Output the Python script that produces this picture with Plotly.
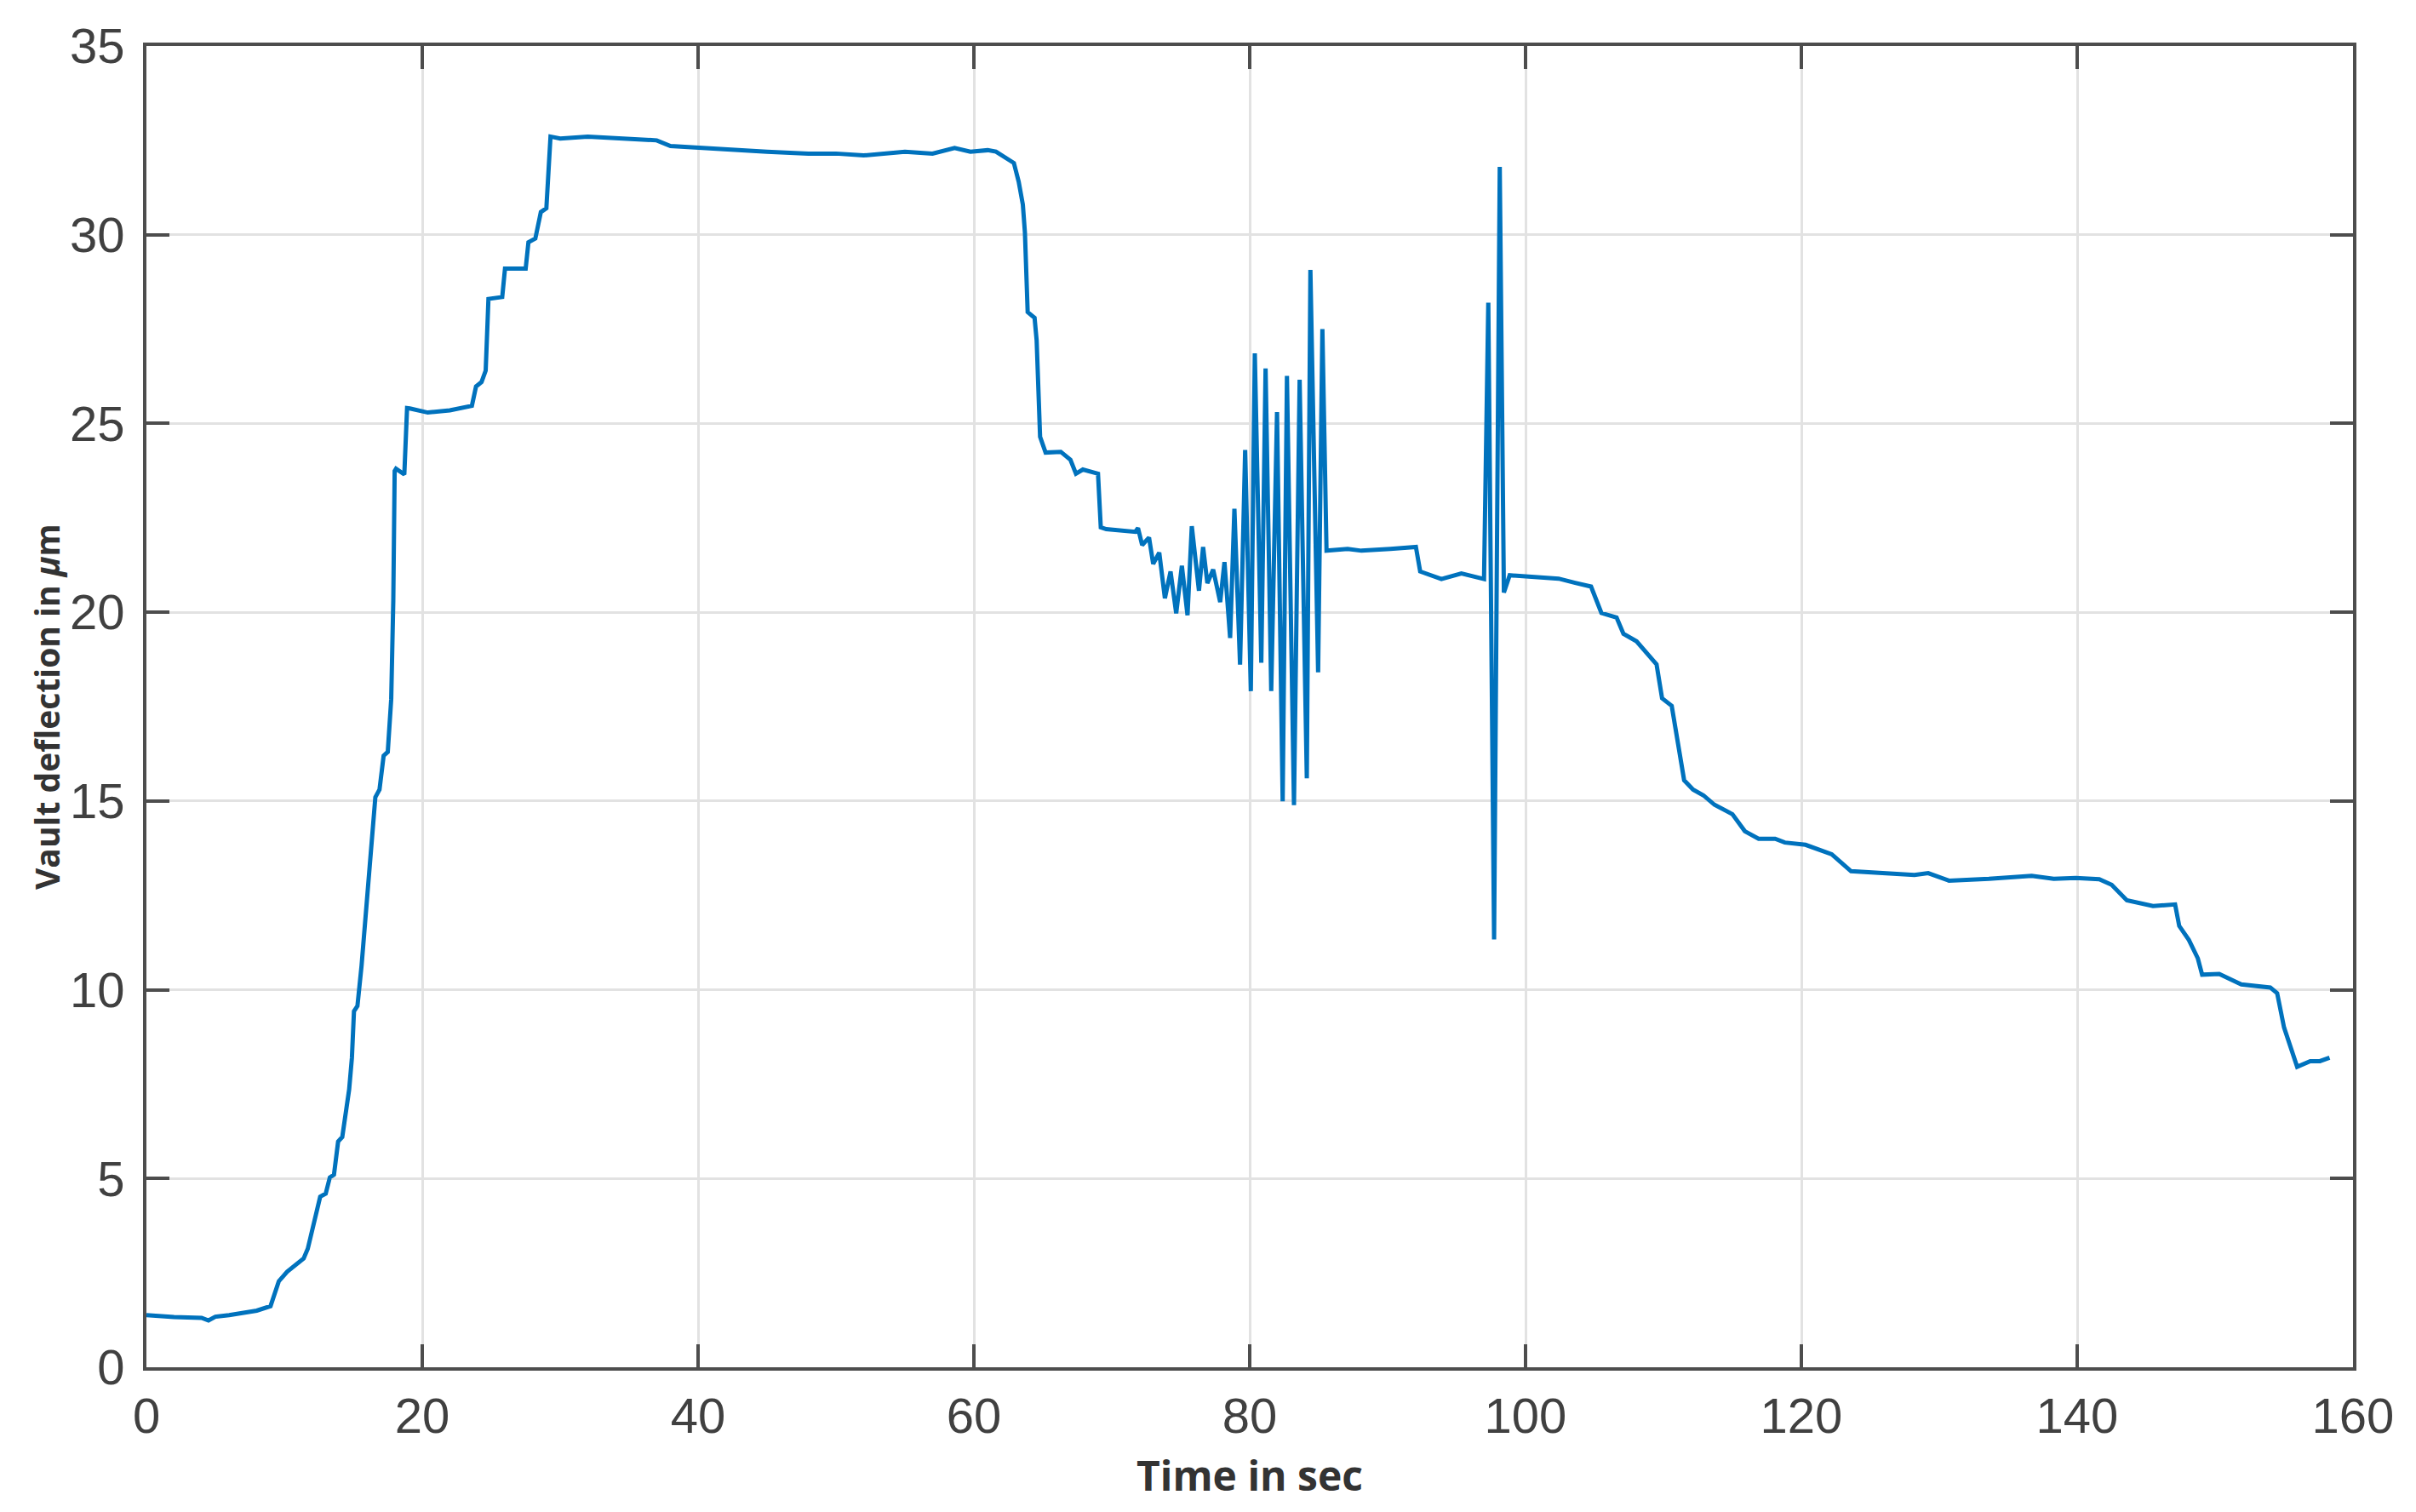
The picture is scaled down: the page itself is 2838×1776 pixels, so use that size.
import plotly.graph_objects as go

time_s = [
    0, 2, 4, 4.5, 5, 6, 8, 9.0, 9.6, 10.2, 11.4, 11.7, 12.6, 13.0, 13.3, 13.6, 13.9, 14.2,
    14.7, 14.9, 15.05, 15.3, 15.6, 16.0, 16.2, 16.6, 16.9, 17.2, 17.5, 17.75, 17.9, 18.0,
    18.1, 18.7, 18.9, 19.1, 20.4, 22, 23.6, 23.9, 24.3, 24.6, 24.8, 25.8, 26.0, 27.5, 27.7,
    28.2, 28.6, 29.0, 29.3, 30, 32, 35, 37, 38, 40, 43, 45, 48, 50, 52, 55, 57, 58.6, 59.75,
    61.0, 61.6, 62.2, 62.9, 63.25, 63.55, 63.7, 63.9, 64.4, 64.55, 64.8, 65.2, 66.3, 67.0,
    67.4, 67.9, 69.0, 69.2, 69.6, 71.7, 71.9, 72.2, 72.7, 73.0, 73.44, 73.85, 74.26, 74.67,
    75.08, 75.49, 75.8, 76.32, 76.62, 76.93, 77.35, 77.86, 78.17, 78.58, 78.89, 79.3, 79.67,
    80.08, 80.37, 80.84, 81.15, 81.56, 81.98, 82.39, 82.7, 83.21, 83.62, 84.14, 84.4, 84.96,
    85.27, 85.57, 87.1, 88.1, 90.2, 92.05, 92.36, 93.9, 95.35, 96.99, 97.3, 97.72, 98.13,
    98.43, 98.85, 100.5, 102.4, 103.6, 104.75, 105.5, 106.6, 107.1, 108.05, 109.5, 109.9,
    110.6, 111.0, 111.5, 112.15, 112.9, 113.7, 115.0, 115.9, 116.9, 118.1, 118.8, 120.3,
    122.2, 123.6, 125.7, 128.2, 129.2, 130.7, 133.6, 136.7, 138.3, 139.9, 141.6, 142.5,
    143.6, 145.5, 147.1, 147.4, 148.1, 148.75, 149.06, 150.3, 151.5, 151.9, 154.0, 154.5,
    155.0, 155.95, 156.9, 157.6, 158.3,
]

deflection_um = [
    1.38, 1.33, 1.31, 1.24, 1.34, 1.38, 1.5, 1.62, 2.28, 2.53, 2.88, 3.14, 4.52, 4.6, 5.03,
    5.1, 5.98, 6.1, 7.36, 8.2, 9.43, 9.57, 10.64, 12.5, 13.4, 15.1, 15.3, 16.2, 16.3, 17.7,
    20.3, 23.74, 23.8, 23.65, 25.41, 25.4, 25.29, 25.35, 25.47, 25.98, 26.1, 26.4, 28.3,
    28.35, 29.1, 29.1, 29.8, 29.9, 30.6, 30.7, 32.6, 32.55, 32.6, 32.55, 32.5, 32.35, 32.3,
    32.25, 32.2, 32.15, 32.15, 32.1, 32.2, 32.15, 32.3, 32.2, 32.24, 32.2, 32.05, 31.9,
    31.4, 30.8, 30.06, 27.95, 27.8, 27.2, 24.65, 24.23, 24.25, 24.04, 23.67, 23.78, 23.67,
    22.25, 22.2, 22.13, 22.23, 21.78, 21.98, 21.28, 21.58, 20.37, 21.08, 19.97, 21.23,
    19.92, 22.28, 20.57, 21.73, 20.77, 21.13, 20.27, 21.33, 19.32, 22.74, 18.61, 24.3,
    17.91, 26.86, 18.66, 26.46, 17.91, 25.3, 14.99, 26.26, 14.89, 26.16, 15.6, 29.07,
    18.41, 27.5, 21.63, 21.68, 21.63, 21.68, 21.73, 21.08, 20.88, 21.03, 20.88, 28.2,
    11.33, 31.8, 20.52, 20.98, 20.94, 20.89, 20.78, 20.68, 19.98, 19.86, 19.43, 19.23,
    18.62, 17.72, 17.52, 16.66, 15.55, 15.3, 15.15, 14.9, 14.65, 14.2, 14.0, 14.0, 13.9,
    13.84, 13.59, 13.14, 13.09, 13.04, 13.09, 12.89, 12.94, 13.02, 12.94, 12.96, 12.93,
    12.78, 12.37, 12.22, 12.26, 11.69, 11.32, 10.83, 10.4, 10.42, 10.21, 10.14, 10.06,
    9.91, 9.0, 7.96, 8.11, 8.11, 8.2,
]

x_ticks = [0, 20, 40, 60, 80, 100, 120, 140, 160]
y_ticks = [0, 5, 10, 15, 20, 25, 30, 35]

fig = go.Figure()
fig.add_trace(go.Scatter(
    x=time_s, y=deflection_um, mode="lines",
    line=dict(color="#0072BD", width=5),
    showlegend=False, hoverinfo="skip",
))

axis_common = dict(
    showline=True, linecolor="#4d4d4d", linewidth=4, mirror="ticks",
    ticks="inside", ticklen=27, tickwidth=4, tickcolor="#4d4d4d",
    showgrid=True, gridcolor="#e2e2e2", gridwidth=3, zeroline=False,
    tickfont=dict(family="Liberation Sans, Arial", size=58, color="#404040"),
)

fig.update_xaxes(range=[0, 160], tickvals=x_ticks, ticktext=[str(v) for v in x_ticks],
                 ticklabelstandoff=3, **axis_common)
fig.update_yaxes(range=[0, 35], tickvals=y_ticks, ticktext=[str(v) for v in y_ticks],
                 ticklabelstandoff=10, **axis_common)

fig.add_annotation(
    text="<b>Time in sec</b>", x=0.5, y=0, xref="paper", yref="paper",
    xanchor="center", yanchor="middle", yshift=-126, showarrow=False,
    font=dict(family="Open Sans", size=48, color="#333333"),
)
fig.add_annotation(
    text="<b>Vault deflection in <i>μ</i>m</b>", x=0, y=0.5, xref="paper", yref="paper",
    xanchor="center", yanchor="middle", xshift=-118, textangle=-90, showarrow=False,
    font=dict(family="Open Sans", size=39, color="#333333"),
)

fig.update_layout(
    width=2822, height=1760,
    margin=dict(l=164, r=66, t=46, b=162),
    paper_bgcolor="white", plot_bgcolor="white",
)

fig.write_html("out.html")
